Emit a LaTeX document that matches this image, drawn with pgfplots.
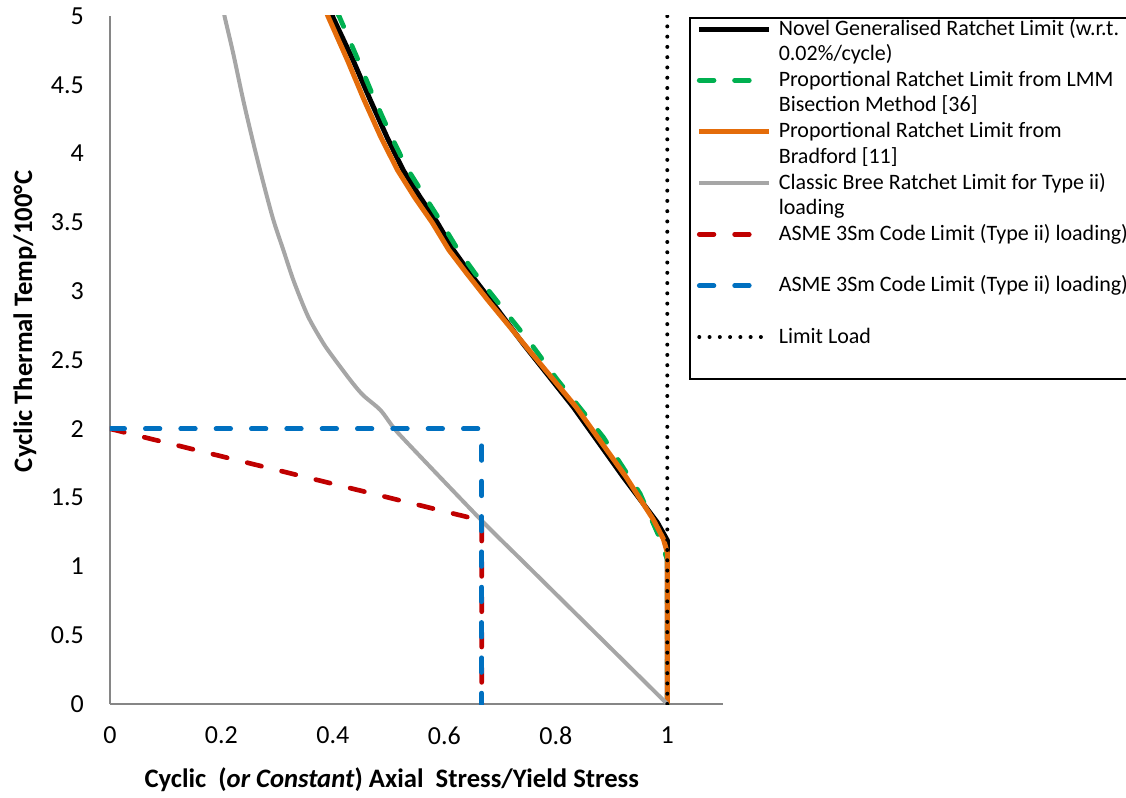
\documentclass[border=0pt]{standalone}
\usepackage{fontspec}
\setmainfont{Carlito}
\usepackage{pgfplots}
\pgfplotsset{compat=1.18}
\definecolor{cgreen}{HTML}{00B050}
\definecolor{corange}{HTML}{E46C0A}
\definecolor{cgray}{HTML}{A6A6A6}
\definecolor{cred}{HTML}{C00000}
\definecolor{cblue}{HTML}{0070C0}
\definecolor{caxis}{HTML}{868686}
\newcommand{\legfont}{\fontsize{16.5pt}{19.1pt}\selectfont}
\newcommand{\tickfont}{\fontsize{19.5pt}{22pt}\selectfont}
\newcommand{\labfont}{\fontsize{20pt}{24pt}\selectfont\bfseries}
\newcommand{\lent}[2]{\raisebox{5.73pt}[37pt][0pt]{\parbox[b]{285pt}{\strut #1\strut\\\strut #2\strut}}}
\begin{document}
\begin{tikzpicture}
\begin{axis}[
  name=ax,
  at={(0,0)}, anchor=south west,
  scale only axis,
  width=459.75pt, height=516pt,
  xmin=0, xmax=1.1, ymin=0, ymax=5,
  xtick={0,0.2,0.4,0.6,0.8,1},
  ytick={0,0.5,1,1.5,2,2.5,3,3.5,4,4.5,5},
  axis x line=bottom, axis y line=left,
  axis line style={-, draw=caxis, line width=1.1pt},
  xtick style={draw=none}, ytick style={draw=none},
  /pgf/number format/assume math mode=true,
  xticklabel style={font=\tickfont, anchor=north, inner sep=0pt, yshift=-14.5pt},
  yticklabel style={font=\tickfont, anchor=east, inner sep=0pt, xshift=-17.25pt},
  xlabel={Cyclic\ \ (\textit{or Constant}) Axial\ \ Stress/Yield Stress},
  ylabel={Cyclic Thermal Temp/100°C},
  xlabel style={font=\labfont, at={(axis description cs:0.4596,-0.122)}, anchor=base},
  ylabel style={font=\labfont, at={(axis description cs:-0.1387,0.556)}, anchor=center, rotate=0},
  legend cell align=left,
  legend image code/.code={\draw[#1] (0pt,11.6pt) -- (52.5pt,11.6pt);},
  legend style={at={(axis description cs:0.9445,0.9985)}, anchor=north west,
    draw=black, line width=1.2pt, fill=white, inner xsep=5.25pt, inner ysep=0.75pt,
    row sep=0pt, column sep=5.25pt, font=\legfont, nodes={inner sep=0pt}},
]
\addplot[black, line width=3.75pt, line join=round] coordinates {
(0.398,5.02) (0.400,4.99) (0.436,4.68) (0.467,4.39) (0.497,4.12) (0.526,3.88)
(0.557,3.68) (0.587,3.50) (0.616,3.30) (0.646,3.13) (0.682,2.94) (0.741,2.62)
(0.831,2.16) (0.921,1.65) (0.982,1.32) (1.000,1.19) (1.000,0)};
\addlegendentry{\lent{Novel Generalised Ratchet Limit (w.r.t.}{0.02\%/cycle)}}
\addplot[cgreen, line width=3.6pt, line cap=round, dash pattern=on 11pt off 15.5pt] coordinates {
(0.408,5.02) (0.411,5.0) (0.443,4.70) (0.473,4.41) (0.503,4.14) (0.532,3.90)
(0.563,3.70) (0.593,3.51) (0.623,3.31) (0.655,3.13) (0.692,2.94) (0.755,2.62)
(0.802,2.36) (0.885,1.94) (0.951,1.53) (0.985,1.22) (1.000,1.05) (1.000,0)};
\addlegendentry{\lent{Proportional Ratchet Limit from LMM}{Bisection Method [36]}}
\addplot[corange, line width=3.75pt, line join=round] coordinates {
(0.389,5.02) (0.391,5.0) (0.426,4.68) (0.456,4.39) (0.486,4.12) (0.516,3.88)
(0.547,3.68) (0.578,3.50) (0.608,3.30) (0.640,3.13) (0.677,2.94) (0.742,2.62)
(0.836,2.16) (0.926,1.65) (0.975,1.34) (0.993,1.20) (1.000,1.10) (1.000,0)};
\addlegendentry{\lent{Proportional Ratchet Limit from}{Bradford [11]}}
\addplot[cgray, line width=3pt, line join=round, smooth, tension=0.5] coordinates {
(0.205,5.02) (0.206,4.99) (0.221,4.73) (0.239,4.39) (0.257,4.08) (0.275,3.79)
(0.293,3.52) (0.311,3.30) (0.330,3.07) (0.355,2.82) (0.380,2.64) (0.395,2.55)
(0.431,2.355) (0.454,2.245) (0.485,2.137) (0.508,2.013) (0.533,1.90) (0.667,1.333)
(0.75,1.0) (1.0,0)};
\addlegendentry{\lent{Classic Bree Ratchet Limit for Type ii)}{loading}}
\addplot[cred, line width=3.5pt, line cap=round, dash pattern=on 11pt off 15.5pt] coordinates {
(0,2) (0.667,1.333) (0.667,0)};
\addlegendentry{\lent{ASME 3Sm Code Limit (Type ii) loading)}{}}
\addplot[cblue, line width=3.5pt, line cap=round, dash pattern=on 11pt off 15.5pt] coordinates {
(0,2) (0.667,2) (0.667,0)};
\addlegendentry{\lent{ASME 3Sm Code Limit (Type ii) loading)}{}}
\addplot[black, line width=3pt, line cap=round, dash pattern=on 0pt off 7.7pt] coordinates {
(1,0) (1,5)};
\addlegendentry{\lent{Limit Load}{}}
\end{axis}
\pgfresetboundingbox
\path[use as bounding box] (-82.5pt,-70.5pt) rectangle (762pt,528pt);
\end{tikzpicture}
\end{document}
